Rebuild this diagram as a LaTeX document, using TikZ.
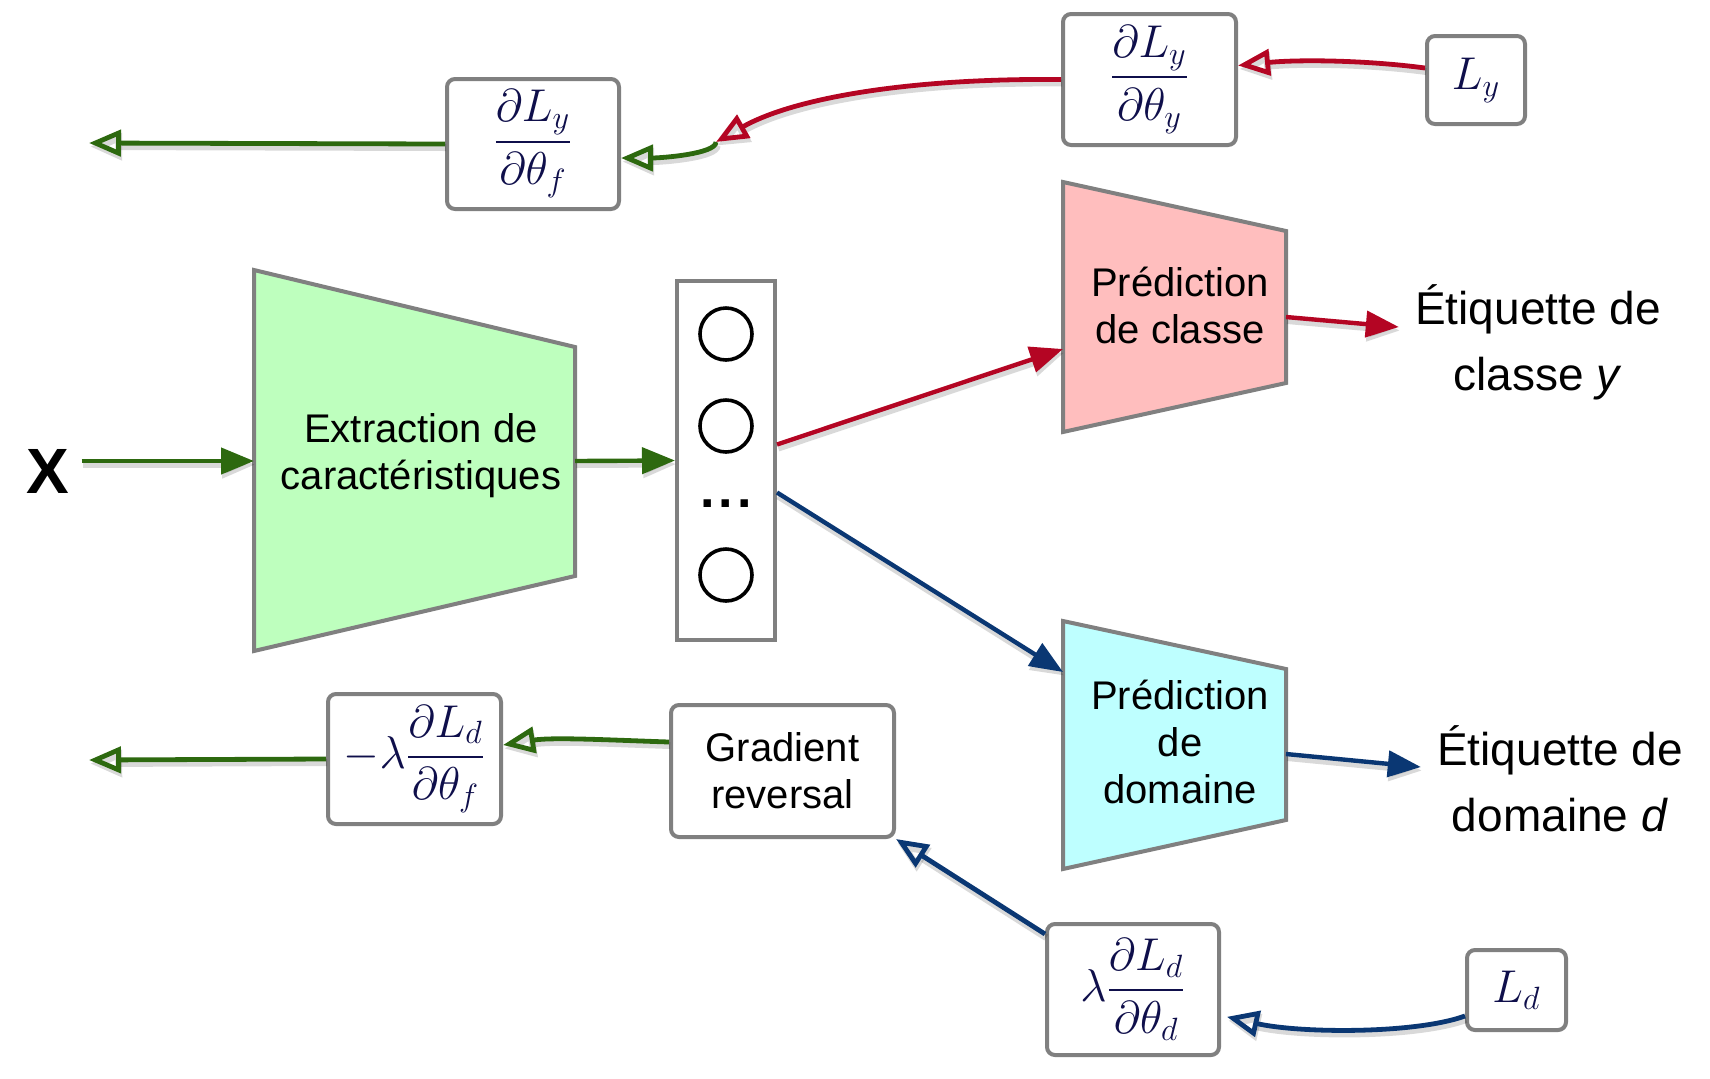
\RequirePackage{fix-cm}
\documentclass[tikz,border=0pt]{standalone}
\usepackage{amsmath}
\usepackage[no-math]{fontspec}
\setmainfont{Liberation Sans}
\usetikzlibrary{arrows.meta}
\definecolor{cgreen}{RGB}{45,105,15}
\definecolor{cred}{RGB}{180,5,35}
\definecolor{cblue}{RGB}{10,55,115}
\definecolor{bordergray}{RGB}{128,128,128}
\definecolor{featgreen}{RGB}{190,255,190}
\definecolor{pinkfill}{RGB}{255,190,190}
\definecolor{cyanfill}{RGB}{190,255,255}
\definecolor{mathnavy}{RGB}{15,15,75}
\begin{document}
\begin{tikzpicture}[x=0.5pt,y=-0.5pt,
  box/.style={draw=bordergray, line width=2pt, rounded corners=4pt, fill=white, inner sep=0pt, text=mathnavy, font=\fontsize{23}{27}\selectfont},
  trap/.style={draw=bordergray, line width=2pt, line join=miter},
  lbl/.style={font=\fontsize{20}{23.5}\selectfont, align=center, inner sep=0pt},
  elbl/.style={font=\fontsize{23}{33}\selectfont, align=center, inner sep=0pt},
  shad/.style={preaction={draw=black, opacity=0.15, line width=3.4pt, transform canvas={shift={(0.6pt,-1.8pt)}}}},
  fwd/.style={shad, line width=2.2pt, -{Triangle[length=16.5pt,width=13pt]}},
  bwd/.style={shad, line width=2.4pt, -{Triangle[open,length=16pt,width=13pt]}},
  neuron/.style={circle, draw=black, line width=1.8pt, minimum size=26pt, inner sep=0pt}
]
\useasboundingbox (0,0) rectangle (1710,1078);

% feature extractor
\draw[trap, fill=featgreen] (254,270) -- (575,347) -- (575,576) -- (254,651) -- cycle;
\node[lbl] (feat) at (421,456) {Extraction de\\caractéristiques};
\coordinate (featL) at (254,461);
\coordinate (featR) at (575,461);

% input
\node[font=\bfseries\fontsize{32}{32}\selectfont, inner sep=0pt] (X) at (48,471) {X};

% feature vector
\node[draw=bordergray, line width=2pt, minimum width=49pt, minimum height=179.5pt, inner sep=0pt] (vec) at (726,460.5) {};
\node[neuron] (n1) at (726,334) {};
\node[neuron] (n2) at (726,426) {};
\node[neuron] (n3) at (726,575) {};
\node[font=\bfseries\fontsize{26}{26}\selectfont, inner sep=0pt] (dots) at (726,504) {.\hspace{2pt}.\hspace{2pt}.};

% class predictor
\draw[trap, fill=pinkfill] (1063,182) -- (1286,231) -- (1286,383) -- (1063,432) -- cycle;
\node[lbl] (cls) at (1180,305) {Prédiction\\de classe};
\coordinate (pinkIn) at (1063,349);
\coordinate (pinkOut) at (1286,317);

% domain predictor
\draw[trap, fill=cyanfill] (1063,621) -- (1286,669) -- (1286,820) -- (1063,869) -- cycle;
\node[lbl] (dom) at (1180,742) {Prédiction\\de\\domaine};
\coordinate (cyanIn) at (1063,672);
\coordinate (cyanOut) at (1286,754);

% outputs
\node[elbl] (ety) at (1538,342) {Étiquette de\\classe \textit{y}};
\node[elbl] (etd) at (1560,779) {Étiquette de\\domaine \textit{d}};

% gradient boxes
\node[box, minimum width=86pt, minimum height=65pt] (dfy) at (533,144) {$\dfrac{\partial L_y}{\partial \theta_f}$};
\node[box, minimum width=86.5pt, minimum height=65.5pt] (dyy) at (1149.5,79.5) {$\dfrac{\partial L_y}{\partial \theta_y}$};
\node[box, minimum width=49pt, minimum height=44pt] (Ly) at (1476,80) {$L_y$};
\node[box, minimum width=86.5pt, minimum height=65pt] (mlam) at (414.5,759) {$-\lambda\dfrac{\partial L_d}{\partial \theta_f}$};
\node[box, minimum width=111.5pt, minimum height=66pt, text=black, align=center, font=\fontsize{20}{23.5}\selectfont] (GR) at (782.5,771) {Gradient\\reversal};
\node[box, minimum width=86pt, minimum height=65.5pt] (lam) at (1133,989.5) {$\lambda\dfrac{\partial L_d}{\partial \theta_d}$};
\node[box, minimum width=49.5pt, minimum height=40pt] (Ld) at (1516.5,990) {$L_d$};

\coordinate (J) at (716,142);
\coordinate (leftTop) at (89,143);
\coordinate (leftBot) at (89,760);

% forward arrows
\draw[fwd, cgreen] ([xshift=6pt,yshift=5pt]X.east) -- (featL);
\draw[fwd, cgreen] (featR) -- (vec.west);
\draw[fwd, cred] ([yshift=8pt]vec.east) -- (pinkIn);
\draw[fwd, cblue] ([yshift=-16pt]vec.east) -- (cyanIn);
\draw[fwd, cred] (pinkOut) -- ([xshift=-8pt,yshift=7.5pt]ety.west);
\draw[fwd, cblue] (cyanOut) -- ([xshift=-8pt,yshift=6pt]etd.west);

% backward arrows
\draw[bwd, cred] ([yshift=6pt]Ly.west) .. controls +(-60,-8) and +(60,-6) .. ([yshift=7pt]dyy.east);
\draw[bwd, cred] (dyy.west) .. controls (900,78) and (790,100) .. (J);
\draw[bwd, cgreen] (J) .. controls +(0,12) and +(40,0) .. ([yshift=-7pt]dfy.east);
\draw[bwd, cgreen] (dfy.west) -- (leftTop);
\draw[bwd, cgreen] ([yshift=14.5pt]GR.west) .. controls +(-60,-2) and +(50,-8) .. ([yshift=7pt]mlam.east);
\draw[bwd, cgreen] (mlam.west) -- (leftBot);
\draw[bwd, cblue, shorten >=3pt] ([yshift=-13pt]Ld.west) .. controls +(-50,18) and +(80,18) .. ([yshift=-13pt]lam.east);
\draw[bwd, cblue] ([yshift=-6pt]lam.north west) -- (GR.south east);
\end{tikzpicture}
\end{document}
